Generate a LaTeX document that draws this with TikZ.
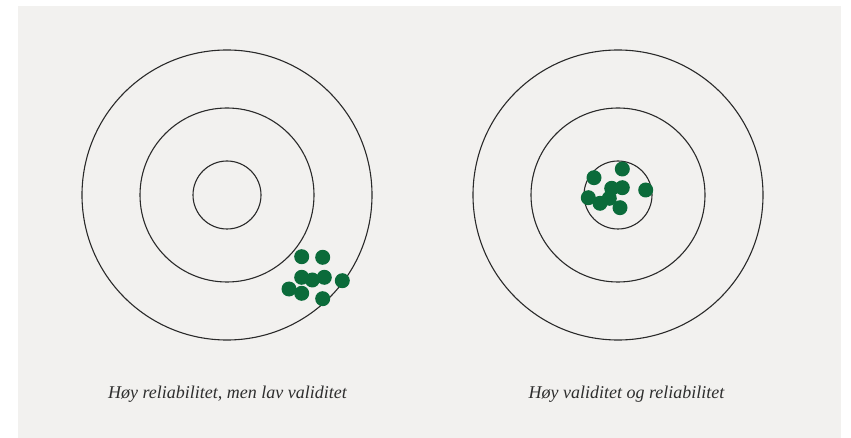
\documentclass[tikz,border=0pt]{standalone}
\usepackage{fontspec}
\setmainfont{Liberation Serif}
\definecolor{bgc}{HTML}{F2F1EF}
\definecolor{ringc}{HTML}{2A2A2A}
\definecolor{dotc}{HTML}{0B6B3A}
\definecolor{txtc}{HTML}{2E2E2E}
\tikzset{
  ring/.style={draw=ringc, line width=1.1pt, circle, inner sep=0pt},
  dot/.style={fill=dotc, circle, inner sep=0pt, minimum size=15pt},
  caption/.style={text=txtc, font=\fontsize{18}{20}\selectfont\itshape, inner sep=0pt, anchor=base}
}
\begin{document}
\begin{tikzpicture}[x=1pt,y=-1pt]
\useasboundingbox (0,0) rectangle (851,438);
\fill[white] (0,0) rectangle (851,438);
\fill[bgc] (18,6) rectangle (841,438);
% left target
\node[ring, minimum size=290pt] (LA) at (227,195) {};
\node[ring, minimum size=174pt] (LB) at (227,195) {};
\node[ring, minimum size=68pt] (LC) at (227,195) {};
% right target
\node[ring, minimum size=290pt] (RA) at (618,195) {};
\node[ring, minimum size=174pt] (RB) at (618,195) {};
\node[ring, minimum size=68pt] (RC) at (618,195) {};
% left dots
\node[dot] (l1) at (301.7,256.7) {};
\node[dot] (l2) at (322.7,257.3) {};
\node[dot] (l3) at (301.7,277.3) {};
\node[dot] (l4) at (312.3,280) {};
\node[dot] (l5) at (324.3,277.3) {};
\node[dot] (l6) at (342.3,280.7) {};
\node[dot] (l7) at (289,289) {};
\node[dot] (l8) at (301.7,293.3) {};
\node[dot] (l9) at (322.7,298.7) {};
% right dots
\node[dot] (r1) at (622.3,169) {};
\node[dot] (r2) at (594,177.7) {};
\node[dot] (r3) at (611.7,188.3) {};
\node[dot] (r4) at (622.3,187.7) {};
\node[dot] (r5) at (645.7,190) {};
\node[dot] (r6) at (588.3,197.7) {};
\node[dot] (r7) at (600,203.3) {};
\node[dot] (r8) at (609.3,198.3) {};
\node[dot] (r9) at (620,207.7) {};
% captions
\node[caption] (capL) at (227.5,398) {Høy reliabilitet, men lav validitet};
\node[caption] (capR) at (626.5,398) {Høy validitet og reliabilitet};
\end{tikzpicture}
\end{document}
